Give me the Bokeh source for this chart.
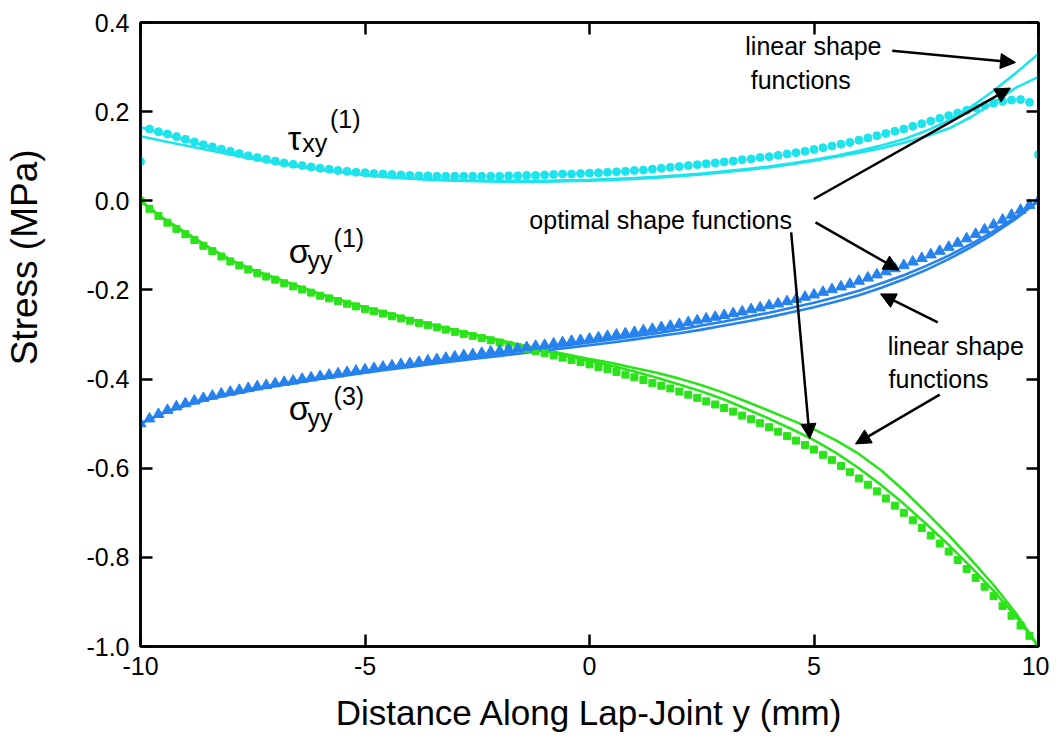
from bokeh.plotting import figure
from bokeh.models import Range1d, LinearAxis, FixedTicker, Label, Arrow, NormalHead
from bokeh.embed import file_html
from bokeh.resources import INLINE

# ---------------- data ----------------
x_pts = [-10.0, -9.8, -9.6, -9.4, -9.2, -9.0, -8.8, -8.6, -8.4, -8.2,
         -8.0, -7.8, -7.6, -7.4, -7.2, -7.0, -6.8, -6.6, -6.4, -6.2,
         -6.0, -5.8, -5.6, -5.4, -5.2, -5.0, -4.8, -4.6, -4.4, -4.2,
         -4.0, -3.8, -3.6, -3.4, -3.2, -3.0, -2.8, -2.6, -2.4, -2.2,
         -2.0, -1.8, -1.6, -1.4, -1.2, -1.0, -0.8, -0.6, -0.4, -0.2,
         0.0, 0.2, 0.4, 0.6, 0.8, 1.0, 1.2, 1.4, 1.6, 1.8,
         2.0, 2.2, 2.4, 2.6, 2.8, 3.0, 3.2, 3.4, 3.6, 3.8,
         4.0, 4.2, 4.4, 4.6, 4.8, 5.0, 5.2, 5.4, 5.6, 5.8,
         6.0, 6.2, 6.4, 6.6, 6.8, 7.0, 7.2, 7.4, 7.6, 7.8,
         8.0, 8.2, 8.4, 8.6, 8.8, 9.0, 9.2, 9.4, 9.6, 9.8,
         10.0]

tau_xy1_exact = [0.088, 0.161, 0.155, 0.150, 0.144, 0.138, 0.132, 0.126, 0.121, 0.116,
                 0.111, 0.106, 0.101, 0.097, 0.093, 0.089, 0.085, 0.082, 0.079, 0.076,
                 0.073, 0.071, 0.068, 0.066, 0.064, 0.063, 0.061, 0.060, 0.059, 0.058,
                 0.057, 0.056, 0.056, 0.055, 0.055, 0.055, 0.055, 0.055, 0.055, 0.055,
                 0.055, 0.056, 0.056, 0.057, 0.057, 0.058, 0.059, 0.060, 0.060, 0.061,
                 0.062, 0.063, 0.064, 0.065, 0.066, 0.068, 0.069, 0.071, 0.073, 0.075,
                 0.077, 0.079, 0.081, 0.083, 0.085, 0.087, 0.089, 0.092, 0.094, 0.097,
                 0.099, 0.102, 0.105, 0.108, 0.111, 0.115, 0.119, 0.123, 0.127, 0.131,
                 0.136, 0.141, 0.146, 0.151, 0.156, 0.161, 0.167, 0.173, 0.179, 0.185,
                 0.191, 0.197, 0.203, 0.209, 0.214, 0.219, 0.223, 0.226, 0.227, 0.221,
                 0.104]

sig_yy1_exact = [0.000, -0.018, -0.034, -0.049, -0.063, -0.075, -0.088, -0.101, -0.113, -0.125,
                 -0.136, -0.145, -0.154, -0.162, -0.170, -0.177, -0.185, -0.192, -0.199, -0.206,
                 -0.213, -0.219, -0.225, -0.231, -0.237, -0.243, -0.248, -0.253, -0.259, -0.264,
                 -0.269, -0.274, -0.279, -0.284, -0.289, -0.294, -0.299, -0.303, -0.308, -0.313,
                 -0.318, -0.323, -0.328, -0.332, -0.337, -0.342, -0.347, -0.352, -0.357, -0.362,
                 -0.367, -0.373, -0.378, -0.384, -0.390, -0.396, -0.402, -0.409, -0.415, -0.421,
                 -0.428, -0.435, -0.442, -0.450, -0.457, -0.465, -0.473, -0.482, -0.490, -0.499,
                 -0.508, -0.518, -0.528, -0.538, -0.548, -0.558, -0.570, -0.582, -0.595, -0.609,
                 -0.623, -0.637, -0.652, -0.668, -0.684, -0.700, -0.717, -0.734, -0.751, -0.769,
                 -0.787, -0.806, -0.826, -0.846, -0.866, -0.887, -0.909, -0.931, -0.953, -0.976,
                 -1.000]

sig_yy3_exact = [-0.500, -0.489, -0.479, -0.470, -0.462, -0.455, -0.449, -0.443, -0.438, -0.433,
                 -0.429, -0.425, -0.421, -0.417, -0.414, -0.410, -0.407, -0.404, -0.400, -0.397,
                 -0.394, -0.391, -0.388, -0.385, -0.382, -0.379, -0.376, -0.373, -0.370, -0.367,
                 -0.365, -0.362, -0.359, -0.356, -0.353, -0.350, -0.347, -0.345, -0.342, -0.339,
                 -0.337, -0.334, -0.332, -0.329, -0.326, -0.324, -0.321, -0.318, -0.315, -0.313,
                 -0.310, -0.307, -0.304, -0.301, -0.298, -0.295, -0.291, -0.288, -0.284, -0.281,
                 -0.277, -0.273, -0.269, -0.265, -0.261, -0.257, -0.253, -0.249, -0.244, -0.240,
                 -0.235, -0.231, -0.226, -0.221, -0.216, -0.211, -0.205, -0.199, -0.193, -0.187,
                 -0.180, -0.173, -0.166, -0.159, -0.152, -0.145, -0.137, -0.129, -0.121, -0.113,
                 -0.104, -0.095, -0.085, -0.075, -0.065, -0.054, -0.043, -0.032, -0.021, -0.010,
                 0.000]

x_line = [-10.0, -9.5, -9.0, -8.5, -8.0, -7.5, -7.0, -6.5, -6.0, -5.5,
          -5.0, -4.5, -4.0, -3.5, -3.0, -2.5, -2.0, -1.5, -1.0, -0.5,
          0.0, 0.5, 1.0, 1.5, 2.0, 2.5, 3.0, 3.5, 4.0, 4.5,
          5.0, 5.5, 6.0, 6.5, 7.0, 7.5, 8.0, 8.5, 9.0, 9.5,
          10.0]

tau_xy1_optimal = [0.165, 0.150, 0.136, 0.122, 0.109, 0.097, 0.087, 0.078, 0.070, 0.064,
                   0.058, 0.053, 0.050, 0.047, 0.045, 0.044, 0.043, 0.043, 0.043, 0.044,
                   0.045, 0.047, 0.049, 0.052, 0.055, 0.059, 0.064, 0.069, 0.075, 0.082,
                   0.090, 0.099, 0.108, 0.118, 0.130, 0.145, 0.162, 0.188, 0.220, 0.254,
                   0.278]
tau_xy1_linear = [0.145, 0.134, 0.124, 0.114, 0.104, 0.094, 0.085, 0.077, 0.070, 0.064,
                  0.058, 0.054, 0.050, 0.048, 0.046, 0.045, 0.045, 0.045, 0.045, 0.046,
                  0.047, 0.049, 0.051, 0.054, 0.057, 0.061, 0.066, 0.071, 0.077, 0.084,
                  0.092, 0.101, 0.112, 0.124, 0.138, 0.157, 0.180, 0.211, 0.247, 0.287,
                  0.330]

sig_yy1_optimal = [0.000, -0.040, -0.072, -0.104, -0.133, -0.156, -0.174, -0.192, -0.210, -0.225,
                   -0.240, -0.253, -0.266, -0.279, -0.291, -0.303, -0.315, -0.326, -0.337, -0.348,
                   -0.359, -0.370, -0.383, -0.397, -0.412, -0.428, -0.446, -0.467, -0.489, -0.512,
                   -0.537, -0.566, -0.600, -0.638, -0.680, -0.725, -0.772, -0.822, -0.875, -0.933,
                   -1.000]
sig_yy1_linear = [0.000, -0.039, -0.071, -0.103, -0.132, -0.155, -0.173, -0.191, -0.209, -0.224,
                  -0.239, -0.252, -0.265, -0.278, -0.290, -0.302, -0.313, -0.324, -0.335, -0.345,
                  -0.355, -0.364, -0.375, -0.386, -0.399, -0.414, -0.431, -0.451, -0.471, -0.492,
                  -0.513, -0.538, -0.568, -0.605, -0.650, -0.699, -0.750, -0.805, -0.862, -0.926,
                  -1.000]

sig_yy3_optimal = [-0.500, -0.476, -0.458, -0.443, -0.432, -0.422, -0.413, -0.404, -0.396, -0.389,
                   -0.382, -0.374, -0.368, -0.361, -0.354, -0.348, -0.342, -0.336, -0.330, -0.324,
                   -0.318, -0.311, -0.304, -0.297, -0.289, -0.280, -0.271, -0.261, -0.251, -0.240,
                   -0.229, -0.216, -0.202, -0.185, -0.167, -0.146, -0.123, -0.097, -0.068, -0.036,
                   0.000]
sig_yy3_linear = [-0.500, -0.477, -0.460, -0.446, -0.435, -0.425, -0.416, -0.408, -0.400, -0.393,
                  -0.386, -0.379, -0.373, -0.366, -0.360, -0.354, -0.348, -0.342, -0.336, -0.330,
                  -0.324, -0.318, -0.311, -0.304, -0.297, -0.289, -0.280, -0.271, -0.261, -0.250,
                  -0.239, -0.226, -0.212, -0.195, -0.176, -0.155, -0.131, -0.104, -0.074, -0.040,
                  0.000]

x_ticks = [-10, -5, 0, 5, 10]
x_tick_labels = ["-10", "-5", "0", "5", "10"]
y_ticks = [0.4, 0.2, 0.0, -0.2, -0.4, -0.6, -0.8, -1.0]
y_tick_labels = ["0.4", "0.2", "0.0", "-0.2", "-0.4", "-0.6", "-0.8", "-1.0"]

# ---------------- style ----------------
FONT = "Liberation Sans"
CYAN = "#1DE4EC"
GREEN = "#2BE31A"
BLUE = "#2582EE"

# the original y title sits above the frame centre: pad its lower end with no-break spaces
Y_TITLE = "\u00a0" * 15 + "Stress (MPa)"

p = figure(width=1049, height=738, output_backend="svg", toolbar_location=None,
           x_range=Range1d(-10, 10), y_range=Range1d(-1.0, 0.4),
           min_border_left=140, min_border_right=11, min_border_top=22,
           min_border_bottom=92,
           x_axis_label="Distance Along Lap-Joint y (mm)",
           y_axis_label=Y_TITLE)
p.grid.visible = False
p.outline_line_color = "black"
p.outline_line_width = 2.5
p.background_fill_color = "white"
p.border_fill_color = "white"


def style_axis(ax, ticks, labels, show_labels=True):
    ax.ticker = FixedTicker(ticks=ticks)
    ax.axis_line_color = "black"
    ax.axis_line_width = 2.5
    ax.major_tick_line_color = "black"
    ax.major_tick_line_width = 2.5
    ax.major_tick_in = 12
    ax.major_tick_out = 0
    ax.minor_tick_in = 0
    ax.minor_tick_out = 0
    ax.minor_tick_line_color = None
    if show_labels:
        ax.major_label_overrides = {t: l for t, l in zip(ticks, labels)}
        ax.major_label_text_font = FONT
        ax.major_label_text_font_size = "25px"
        ax.major_label_text_color = "black"
    else:
        ax.major_label_overrides = {t: "" for t in ticks}
        ax.major_label_text_font_size = "0px"
        ax.major_label_standoff = 0


style_axis(p.xaxis[0], x_ticks, x_tick_labels)
style_axis(p.yaxis[0], y_ticks, y_tick_labels)
p.xaxis[0].major_label_standoff = 10
p.yaxis[0].major_label_standoff = 11

xa = p.xaxis[0]
xa.axis_label_text_font = FONT
xa.axis_label_text_font_size = "35px"
xa.axis_label_text_font_style = "normal"
xa.axis_label_text_color = "black"
xa.axis_label_standoff = 15

ya = p.yaxis[0]
ya.axis_label_text_font = FONT
ya.axis_label_text_font_size = "37px"
ya.axis_label_text_font_style = "normal"
ya.axis_label_text_color = "black"
ya.axis_label_standoff = 38

top_ax = LinearAxis()
style_axis(top_ax, x_ticks, x_tick_labels, show_labels=False)
p.add_layout(top_ax, "above")
right_ax = LinearAxis()
style_axis(right_ax, y_ticks, y_tick_labels, show_labels=False)
p.add_layout(right_ax, "right")

# ---------------- series ----------------
LW = 2.6
p.line(x_line, tau_xy1_linear, line_color=CYAN, line_width=LW)
p.line(x_line, tau_xy1_optimal, line_color=CYAN, line_width=LW)
p.line(x_line, sig_yy1_linear, line_color=GREEN, line_width=LW)
p.line(x_line, sig_yy1_optimal, line_color=GREEN, line_width=LW)
p.line(x_line, sig_yy3_linear, line_color=BLUE, line_width=LW)
p.line(x_line, sig_yy3_optimal, line_color=BLUE, line_width=LW)

p.scatter(x_pts, tau_xy1_exact, marker="circle", size=8,
          fill_color=CYAN, line_color=CYAN)
p.scatter(x_pts, sig_yy1_exact, marker="square", size=7,
          fill_color=GREEN, line_color=GREEN)
p.scatter(x_pts, sig_yy3_exact, marker="triangle", size=11,
          fill_color=BLUE, line_color=BLUE)


# ---------------- annotations ----------------
def txt(x, y, s, size, **kw):
    opts = dict(text_font=FONT, text_font_size=size, text_color="black",
                text_align="left", text_baseline="alphabetic")
    opts.update(kw)
    p.add_layout(Label(x=x, y=y, text=s, **opts))


# tau_xy^(1)
txt(-6.72, 0.141, "τ", "34px")
txt(-6.40, 0.130, "xy", "25px")
txt(-5.78, 0.184, "(1)", "25px")
# sigma_yy^(1)
txt(-6.70, -0.112, "σ", "34px")
txt(-6.28, -0.133, "yy", "25px")
txt(-5.70, -0.083, "(1)", "25px")
# sigma_yy^(3)
txt(-6.70, -0.466, "σ", "34px")
txt(-6.28, -0.487, "yy", "25px")
txt(-5.70, -0.437, "(3)", "25px")

txt(-1.34, -0.043, "optimal shape functions", "25px")
txt(3.47, 0.348, "linear shape", "25px")
txt(3.59, 0.272, "functions", "25px")
txt(6.64, -0.325, "linear shape", "25px")
txt(6.66, -0.399, "functions", "25px")

arrows = [
    (6.742, 0.3365, 9.488, 0.3103),
    (4.996, 0.004, 9.376, 0.2529),
    (5.033, -0.0485, 6.889, -0.1553),
    (4.492, -0.071, 4.906, -0.534),
    (7.757, -0.2728, 6.481, -0.209),
    (7.802, -0.435, 5.924, -0.5455),
]
for xs, ys, xe, ye in arrows:
    p.add_layout(Arrow(end=NormalHead(size=15, fill_color="black",
                                      line_color="black", line_width=1),
                       x_start=xs, y_start=ys, x_end=xe, y_end=ye,
                       line_color="black", line_width=2.5))

open("out.html", "w").write(file_html(p, INLINE))
